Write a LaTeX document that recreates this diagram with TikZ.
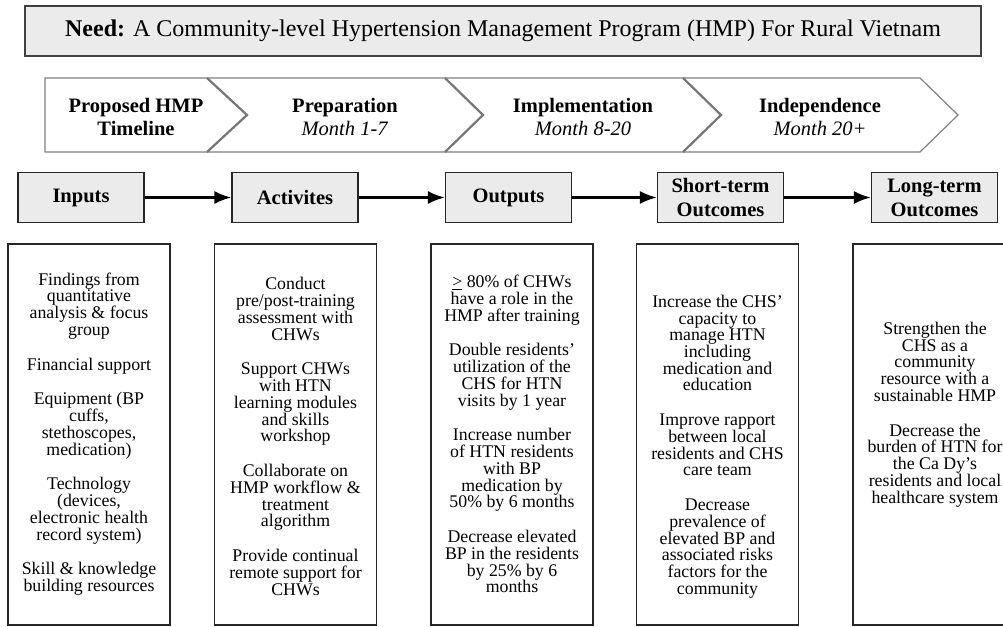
\documentclass[tikz,border=0pt]{standalone}
\usepackage{fontspec}
\setmainfont{Liberation Serif}
\usetikzlibrary{arrows.meta}

\definecolor{boxgray}{RGB}{235,235,235}
\definecolor{neededge}{RGB}{64,64,64}
\definecolor{tledge}{RGB}{128,128,128}
\definecolor{tlsepcol}{RGB}{118,118,118}

\tikzset{
	needbox/.style={draw=neededge, line width=1.6pt, fill=boxgray, minimum width=956pt, minimum height=50pt, font=\fontsize{24}{28}\selectfont},
	tltext/.style={align=center, font=\fontsize{20.5}{23}\selectfont},
	hdrbox/.style={draw=black!85, line width=1.3pt, fill=boxgray, minimum width=126pt, minimum height=50pt, inner sep=0pt, align=center, font=\fontsize{20.5}{24}\selectfont\bfseries},
	colbox/.style={draw=black!85, line width=1.3pt, minimum width=162pt, minimum height=381pt},
	coltext/.style={align=center, inner sep=0pt, font=\fontsize{17.8}{16.7}\selectfont},
	flow/.style={line width=2.3pt, arrows={-{Latex[length=17pt,width=13pt]}}}
}

\begin{document}
\begin{tikzpicture}[x=1pt, y=-1pt]
	\useasboundingbox (0,0) rectangle (1003,626);
	\clip (0,0) rectangle (1003,626);
	\node[needbox] (need) at (503,31) {\textbf{Need:} A Community-level Hypertension Management Program (HMP) For Rural Vietnam};

	% timeline
	\draw[draw=tledge, line width=1.2pt, fill=white] (45,78) -- (920,78) -- (958,115) -- (920,152) -- (45,152) -- cycle;
	\foreach \a/\b in {207/247, 445/483, 683/721}
		\draw[draw=tlsepcol, line width=2.2pt] (\a,78) -- (\b,115) -- (\a,152);
	\node[tltext] (tlname) at (136,116.5) {\textbf{Proposed HMP}\\\textbf{Timeline}};
	\node[tltext] (tlprep) at (345,116.5) {\textbf{Preparation}\\\textit{Month 1-7}};
	\node[tltext] (tlimpl) at (583,116.5) {\textbf{Implementation}\\\textit{Month 8-20}};
	\node[tltext] (tlind) at (820,116.5) {\textbf{Independence}\\\textit{Month 20+}};

	% logic model headers
	\node[hdrbox] (inp) at (81,197.5) {Inputs};
	\node[hdrbox] (act) at (295,197.5) {Activites};
	\node[hdrbox] (out) at (508.5,197.5) {Outputs};
	\node[hdrbox] (sto) at (720.5,197.5) {Short-term\\Outcomes};
	\node[hdrbox] (lto) at (934.5,197.5) {Long-term\\Outcomes};
	\draw[flow] (inp) -- (act);
	\draw[flow] (act) -- (out);
	\draw[flow] (out) -- (sto);
	\draw[flow] (sto) -- (lto);

	% columns
	\node[colbox] (inpbox) at (89,434.5) {};
	\node[colbox] (actbox) at (295.5,434.5) {};
	\node[colbox] (outbox) at (512,434.5) {};
	\node[colbox] (stobox) at (717.5,434.5) {};
	\node[colbox] (ltobox) at (934,434.5) {};

	\node[coltext] (inptxt) at (89,434) {Findings from\\quantitative\\analysis \& focus\\group\\[18.2pt]
		Financial support\\[18.2pt]
		Equipment (BP\\cuffs,\\stethoscopes,\\medication)\\[18.2pt]
		Technology\\(devices,\\electronic health\\record system)\\[18.2pt]
		Skill \& knowledge\\building resources};
	\node[coltext] (acttxt) at (295.5,436.5) {Conduct\\pre/post-training\\assessment with\\CHWs\\[18.2pt]
		Support CHWs\\with HTN\\learning modules\\and skills\\workshop\\[18.2pt]
		Collaborate on\\HMP workflow \&\\treatment\\algorithm\\[18.2pt]
		Provide continual\\remote support for\\CHWs};
	\node[coltext] (outtxt) at (512,434) {\underline{>} 80\% of CHWs\\have a role in the\\HMP after training\\[18.2pt]
		Double residents’\\utilization of the\\CHS for HTN\\visits by 1 year\\[18.2pt]
		Increase number\\of HTN residents\\with BP\\medication by\\50\% by 6 months\\[18.2pt]
		Decrease elevated\\BP in the residents\\by 25\% by 6\\months};
	\node[coltext] (stotxt) at (717.5,446.5) {Increase the CHS’\\capacity to\\manage HTN\\including\\medication and\\education\\[18.2pt]
		Improve rapport\\between local\\residents and CHS\\care team\\[18.2pt]
		Decrease\\prevalence of\\elevated BP and\\associated risks\\factors for the\\community};
	\node[coltext] (ltotxt) at (935,414.5) {Strengthen the\\CHS as a\\community\\resource with a\\sustainable HMP\\[18.2pt]
		Decrease the\\burden of HTN for\\the Ca Dy’s\\residents and local\\healthcare system};
\end{tikzpicture}
\end{document}
